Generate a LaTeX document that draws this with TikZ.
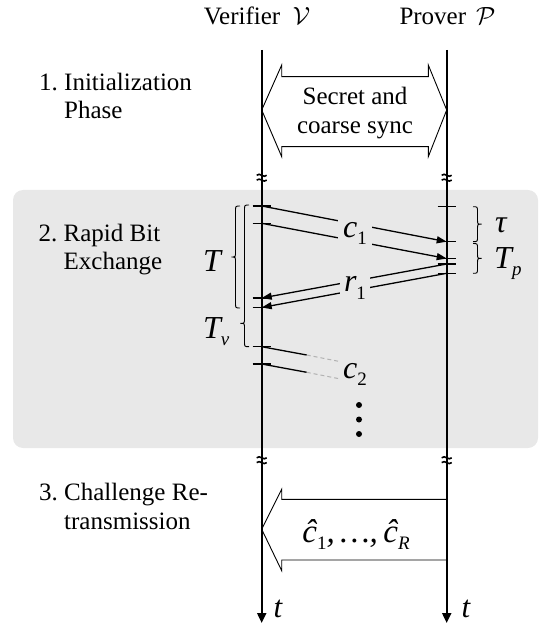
\documentclass[tikz,border=0pt]{standalone}
\usepackage{fontspec}
\setmainfont{Liberation Serif}
\usetikzlibrary{arrows.meta,calc}
\definecolor{bandgray}{RGB}{232,232,232}
\newcommand{\mysub}[1]{\raisebox{-7.5pt}{\fontsize{19}{19}\selectfont #1}}
\tikzset{
  timeline/.style={line width=2pt, -{Triangle[length=10pt,width=9pt]}},
  tickmark/.style={line width=1.3pt},
  msg/.style={line width=1.3pt, -{Triangle[length=10pt,width=7pt]}},
  plainmsg/.style={line width=1.3pt},
  faded/.style={gray!60, line width=1pt, dash pattern=on 4pt off 3pt},
  blockarrow/.style={draw, fill=white, line width=0.9pt},
  bracestyle/.style={line width=0.9pt},
  txt/.style={font=\fontsize{25}{28.5}\selectfont, inner sep=0pt},
  mathlbl/.style={font=\fontsize{32}{32}\selectfont\itshape, inner sep=0pt},
  gaplabel/.style={mathlbl, fill=bandgray, inner xsep=4pt, inner ysep=0pt},
  approxstroke/.style={line width=1.6pt},
}
\newcommand{\approxmark}[1]{%
  \draw[approxstroke] ($(#1)+(-5,-2.2)$) .. controls +(3,-3.5) and +(-3,3.5) .. ($(#1)+(5,-2.2)$);
  \draw[approxstroke] ($(#1)+(-5,2.6)$) .. controls +(3,-3.5) and +(-3,3.5) .. ($(#1)+(5,2.6)$);
}
\begin{document}
\begin{tikzpicture}[x=1pt,y=-1pt]
\useasboundingbox (0,0) rectangle (546,628);
% shaded band of phase 2
\fill[bandgray, rounded corners=10pt] (13,190) rectangle (538,448);

% headers
\node[txt, anchor=base] (verifier) at (257,25) {Verifier\hspace{0.5em}$\mathcal{V}$};
\node[txt, anchor=base] (prover) at (447.5,25) {Prover\hspace{0.4em}$\mathcal{P}$};

% phase labels (base = baseline of the last line)
\node[txt, anchor=base west, align=left] (ph1) at (39,119) {1.~Initialization\\\hphantom{1.~}Phase};
\node[txt, anchor=base west, align=left] (ph2) at (38.5,269.5) {2.~Rapid Bit\\\hphantom{2.~}Exchange};
\node[txt, anchor=base west, align=left] (ph3) at (39,529) {3.~Challenge Re-\\\hphantom{3.~}transmission};

% initialization double arrow
\draw[blockarrow] (261.7,110) -- (281.7,65) -- (281.7,76.7) -- (428.3,76.7) -- (428.3,65)
  -- (446.7,110) -- (428.3,156.7) -- (428.3,146.7) -- (281.7,146.7) -- (281.7,156.7) -- cycle;
\node[txt, align=center, anchor=base] (sync) at (355,133.5) {Secret and\\coarse sync};

% retransmission arrow
\draw[blockarrow] (261.7,529.3) -- (281.7,489.3) -- (281.7,499.3) -- (446.7,499.3)
  -- (446.7,560) -- (281.7,560) -- (281.7,570.7) -- cycle;
\node[font=\fontsize{33}{33}\selectfont\itshape, inner sep=0pt, anchor=base] (chat) at (356,542)
  {\^{c}\mysub{\upshape 1},\,\ldots,\,\^{c}\mysub{R}};

% timelines
\coordinate (Vtop) at (261.7,50);
\coordinate (Vbot) at (261.7,623);
\coordinate (Ptop) at (446.7,50);
\coordinate (Pbot) at (446.7,623);
\draw[timeline] (Vtop) -- (Vbot);
\draw[timeline] (Ptop) -- (Pbot);
\node[mathlbl, font=\fontsize{31}{31}\selectfont\itshape, anchor=base west] (tV) at (273.5,617) {t};
\node[mathlbl, font=\fontsize{31}{31}\selectfont\itshape, anchor=base west] (tP) at (461.5,617) {t};

% time points
\coordinate (v1) at (261.7,206);
\coordinate (v2) at (261.7,223.3);
\coordinate (v3) at (261.7,298);
\coordinate (v4) at (261.7,307.5);
\coordinate (v5) at (261.7,346.7);
\coordinate (v6) at (261.7,364);
\coordinate (p1) at (446.7,206.7);
\coordinate (p2) at (446.7,241.7);
\coordinate (p3) at (446.7,258.5);
\coordinate (p4) at (446.7,264);
\coordinate (p5) at (446.7,273.3);
\foreach \c in {v1,v2,v3,v4,v5,v6,p1,p2,p3,p4,p5}
  \draw[tickmark] ($(\c)+(-9,0)$) -- ($(\c)+(9,0)$);

% messages
\draw[msg] (v1) -- (p2);
\draw[msg] (v2) -- (p3);
\draw[msg] (p4) -- (v3);
\draw[msg] (p5) -- (v4);
\coordinate (c2aa) at (306.7,355);
\coordinate (c2ab) at (338,361.2);
\coordinate (c2ba) at (306.7,372.3);
\coordinate (c2bb) at (338,378.5);
\draw[plainmsg] (v5) -- (c2aa);
\draw[faded] (c2aa) -- (c2ab);
\draw[plainmsg] (v6) -- (c2ba);
\draw[faded] (c2ba) -- (c2bb);

% message labels (cover the gaps)
\node[gaplabel, minimum height=30pt, inner xsep=5pt, anchor=base] (c1) at (355,237) {c\mysub{\upshape 1}};
\node[gaplabel, minimum height=26pt, anchor=base] (r1) at (355,291.7) {r\mysub{\upshape 1}};
\node[mathlbl, anchor=base] (c2) at (355,378) {c\mysub{\upshape 2}};
\fill (359,405) circle (3);
\fill (359,419.5) circle (3);
\fill (359,434) circle (3);

% braces
\draw[bracestyle] (240,206) .. controls (235.5,206) .. (235.5,211) -- (235.5,252)
  .. controls (235.5,257) .. (231.5,257) .. controls (235.5,257) .. (235.5,262) -- (235.5,303)
  .. controls (235.5,308) .. (240,308);
\draw[bracestyle] (249,205) .. controls (244.5,205) .. (244.5,210) -- (244.5,318.3)
  .. controls (244.5,323.3) .. (240.5,323.3) .. controls (244.5,323.3) .. (244.5,328.3) -- (244.5,341.7)
  .. controls (244.5,346.7) .. (249,346.7);
\draw[bracestyle] (473,206.7) .. controls (477.5,206.7) .. (477.5,211.7) -- (477.5,219.2)
  .. controls (477.5,224.2) .. (481.5,224.2) .. controls (477.5,224.2) .. (477.5,229.2) -- (477.5,236.7)
  .. controls (477.5,241.7) .. (473,241.7);
\draw[bracestyle] (473,243.5) .. controls (477.5,243.5) .. (477.5,248.5) -- (477.5,253.4)
  .. controls (477.5,258.4) .. (481.5,258.4) .. controls (477.5,258.4) .. (477.5,263.4) -- (477.5,268.3)
  .. controls (477.5,273.3) .. (473,273.3);
\node[mathlbl, anchor=base west] (T) at (203,271.7) {T};
\node[mathlbl, anchor=base west] (Tv) at (203,338) {T\mysub{v}};
\node[mathlbl, anchor=base west] (tau) at (495,233) {τ};
\node[mathlbl, anchor=base west] (Tp) at (494,268) {T\mysub{p}};

% discontinuity marks
\coordinate (a1) at (261.7,177.5);
\coordinate (a2) at (446.7,177.5);
\coordinate (a3) at (261.7,460);
\coordinate (a4) at (446.7,460);
\approxmark{a1}
\approxmark{a2}
\approxmark{a3}
\approxmark{a4}
\end{tikzpicture}
\end{document}
